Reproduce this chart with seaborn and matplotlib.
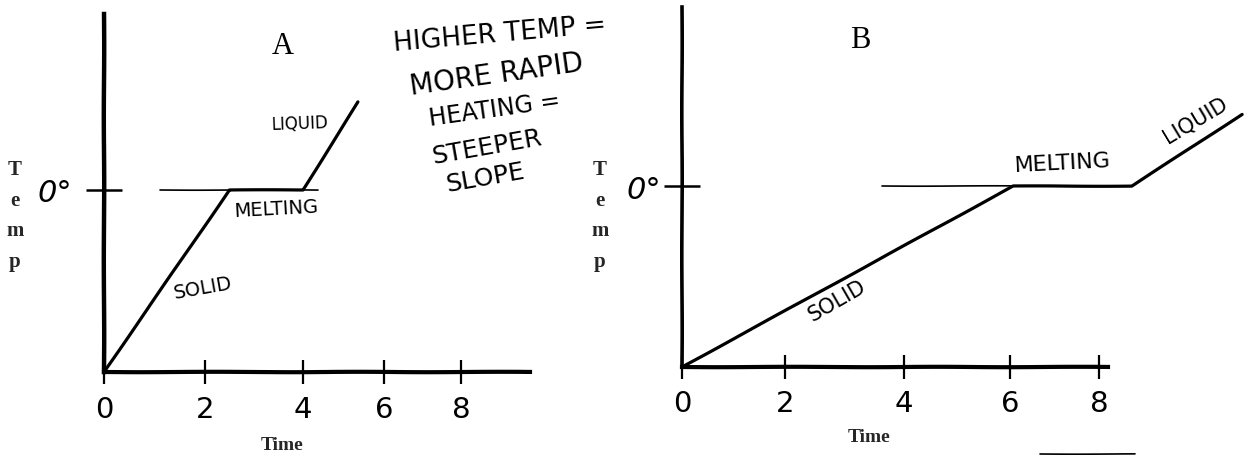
import numpy as np
import pandas as pd
import seaborn as sns
import matplotlib.pyplot as plt
from matplotlib.lines import Line2D

# values. The hand drawn ticks are not evenly spaced,
# so each panel gets its own time scale (knots = label -> pixels from origin)
knots = [0, 2, 4, 6, 8, 10]
knots_px_a = [0, 101, 199, 280, 357, 434]
knots_px_b = [0, 103, 222, 328, 417, 563]

time_a = [0, 2.5, 4.0, 5.36]
temp_a = [-30, 0, 0, 14.5]
time_b = [0, 6.07, 8.45, 9.96]
temp_b = [-30, 0, 0, 11.9]

guide_a = [1.1, 4.37]
guide_b = [3.63, 8.45]
axis_end_a = 9.8
axis_end_b = 8.12

tick_times = [0, 2, 4, 6, 8]
tick_labels = ['0', '2', '4', '6', '8']

W, H = 1246, 456
SERIF = 'Liberation Serif'
HAND = 'DejaVu Sans'

sns.set_style('white')
plt.rcParams['font.family'] = ['DejaVu Sans']
# slight wobble so the ruled lines look drawn by hand
plt.rcParams['path.sketch'] = (0.2, 160, 2)


def px_text(x, y, s, size=13, rot=0, family=HAND, weight='normal'):
    plt.gcf().text(x / W, 1 - y / H, s, fontsize=size, rotation=rot, family=family,
                   weight=weight, ha='center', va='center',
                   rotation_mode='anchor', color='black')


def panel(rect, time, temp, guide, knots_px, axis_end, ylim, lw_left, xlabel_xy, tick_pad, y_pad, temp_x):
    left, top, right, bottom = rect
    ax = fig.add_axes([left / W, 1 - bottom / H, (right - left) / W, (bottom - top) / H])
    ax.patch.set_alpha(0)
    ax.set_xscale('function', functions=(lambda v: np.interp(v, knots, knots_px),
                                         lambda p: np.interp(p, knots_px, knots)))

    df = pd.DataFrame({'time': time, 'temp': temp})
    sns.lineplot(data=df, x='time', y='temp', sort=False, estimator=None, color='black',
                 linewidth=2.3, ax=ax, clip_on=False)
    ax.plot(guide, [0, 0], color='black', linewidth=1.2)

    ax.set_xlim(0, 10)
    ax.set_ylim(*ylim)
    sns.despine(ax=ax)
    ax.spines['left'].set_linewidth(lw_left)
    ax.spines['bottom'].set_linewidth(3)
    ax.spines['left'].set_color('black')
    ax.spines['bottom'].set_color('black')
    ax.spines['bottom'].set_bounds(0, axis_end)

    ax.set_xticks(tick_times)
    ax.set_xticklabels(tick_labels, fontsize=21)
    ax.tick_params(axis='x', which='both', direction='inout', length=17, width=1.6,
                   bottom=True, pad=tick_pad, colors='black')
    ax.xaxis.set_minor_locator(plt.NullLocator())
    ax.set_yticks([0])
    ax.set_yticklabels(['0\N{DEGREE SIGN}'], fontsize=22, style='oblique')
    ax.tick_params(axis='y', direction='inout', length=26, width=1.8, left=True,
                   pad=y_pad, colors='black')

    ax.set_xlabel('Time', fontsize=14, family=SERIF, weight='bold', labelpad=0, va='center')
    ax.xaxis.set_label_coords((xlabel_xy[0] - left) / (right - left),
                              (bottom - xlabel_xy[1]) / (bottom - top))
    ax.set_ylabel('T\ne\nm\np', fontsize=15, family=SERIF, weight='bold', rotation=0,
                  linespacing=1.7, va='center', ha='center')
    ax.yaxis.set_label_coords(-(left - temp_x) / (right - left),
                              (bottom - 216) / (bottom - top))
    return ax


fig = plt.figure(figsize=(W / 100, H / 100), dpi=100)

panel((104, 15, 538, 373), time_a, temp_a, guide_a, knots_px_a, axis_end_a, (-30, 29),
      3.2, (282, 445), 8, 10, 15)
panel((682, 8, 1245, 368), time_b, temp_b, guide_b, knots_px_b, axis_end_b, (-30, 29.7),
      2.6, (869, 438), 7, 2, 600)

# printed panel letters
px_text(283, 46, 'A', size=22, family=SERIF)
px_text(860, 40, 'B', size=22, family=SERIF)

# hand written notes on the scan
px_text(500, 35, 'HIGHER TEMP =', size=19, rot=5)
px_text(497, 75, 'MORE RAPID', size=20, rot=8)
px_text(495, 110, 'HEATING =', size=17, rot=8)
px_text(487, 147, 'STEEPER', size=18, rot=10)
px_text(485, 178, 'SLOPE', size=18, rot=10)
px_text(300, 124, 'LIQUID', size=12, rot=2)
px_text(276, 209, 'MELTING', size=14, rot=3)
px_text(203, 288, 'SOLID', size=14, rot=10)
px_text(837, 301, 'SOLID', size=15, rot=30)
px_text(1063, 163, 'MELTING', size=16, rot=3)
px_text(1195, 120, 'LIQUID', size=15, rot=31)

# edge of the box cut off at the bottom of the page
fig.add_artist(Line2D([1040 / W, 1135 / W], [1 - 454.5 / H, 1 - 454.5 / H],
                      color='black', linewidth=1.2))

fig.savefig('out.png', dpi=100)
